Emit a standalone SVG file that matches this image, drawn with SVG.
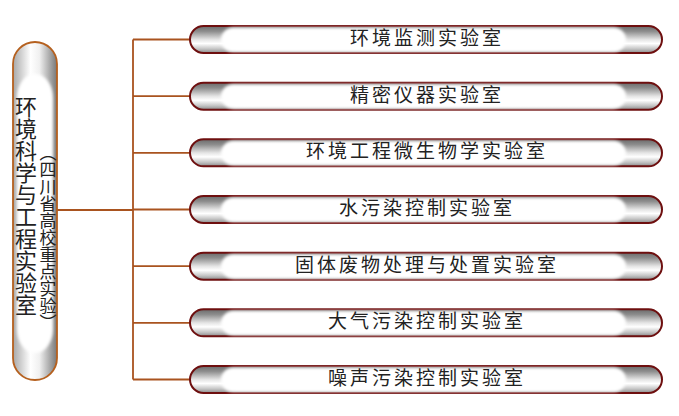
<svg xmlns="http://www.w3.org/2000/svg" width="679" height="416" viewBox="0 0 679 416">
<defs>
<linearGradient id="gBar" x1="0" y1="0" x2="0" y2="1">
<stop offset="0" stop-color="#6a6a6a"/>
<stop offset="0.2" stop-color="#8e8e8e"/>
<stop offset="0.5" stop-color="#e4e4e4"/>
<stop offset="0.65" stop-color="#ffffff"/>
<stop offset="0.85" stop-color="#c4c4c4"/>
<stop offset="1" stop-color="#8a8a8a"/>
</linearGradient>
<linearGradient id="gPill" x1="0" y1="0" x2="1" y2="0">
<stop offset="0" stop-color="#a8a8a8"/>
<stop offset="0.4" stop-color="#ffffff"/>
<stop offset="0.6" stop-color="#f0f0f0"/>
<stop offset="1" stop-color="#777777"/>
</linearGradient>
<filter id="soft" x="-10%" y="-10%" width="120%" height="120%">
<feGaussianBlur stdDeviation="1.6"/>
</filter>
</defs>
<style>
.bar{fill:url(#gBar);stroke:#6e0f0f;stroke-width:2}
.hi{fill:#ffffff;filter:url(#soft)}
.lbl{font-family:"Noto Sans CJK SC","Liberation Sans",sans-serif;font-size:19px;letter-spacing:3px;fill:#222222;text-anchor:middle}
.conn{stroke:#a9531f;stroke-width:1.8;fill:none}
.vt{font-family:"Noto Sans CJK SC","Liberation Sans",sans-serif;fill:#222222;writing-mode:vertical-rl}
</style>
<rect width="679" height="416" fill="#ffffff"/>
<g id="connectors">
<path class="conn" d="M57 210H133M133 39.5V379.5M133 39.5H190M133 96.2H190M133 152.8H190M133 209.5H190M133 266.2H190M133 322.8H190M133 379.5H190"/>
</g>
<g id="root">
<rect x="13" y="42" width="44" height="338" rx="22" ry="22" fill="url(#gPill)" stroke="#b5601e" stroke-width="1.8"/>
<rect class="hi" x="17" y="74" width="36" height="279" rx="18" ry="24"/>
<text class="vt" x="26" y="96" font-size="22" writing-mode="tb">环境科学与工程实验室</text>
<text class="vt" x="48" y="144" font-size="17" writing-mode="tb">（四川省高校重点实验）</text>
</g>
<g id="n1">
<rect class="bar" x="190" y="26" width="472" height="27" rx="13.5"/>
<rect class="hi" x="221" y="27.5" width="405" height="24.5" rx="12.5"/>
<text class="lbl" x="427" y="45">环境监测实验室</text>
</g>
<g id="n2">
<rect class="bar" x="190" y="82.7" width="472" height="27" rx="13.5"/>
<rect class="hi" x="221" y="84.2" width="405" height="24.5" rx="12.5"/>
<text class="lbl" x="427" y="101.7">精密仪器实验室</text>
</g>
<g id="n3">
<rect class="bar" x="190" y="139.3" width="472" height="27" rx="13.5"/>
<rect class="hi" x="221" y="140.8" width="405" height="24.5" rx="12.5"/>
<text class="lbl" x="427" y="158.3">环境工程微生物学实验室</text>
</g>
<g id="n4">
<rect class="bar" x="190" y="196" width="472" height="27" rx="13.5"/>
<rect class="hi" x="221" y="197.5" width="405" height="24.5" rx="12.5"/>
<text class="lbl" x="427" y="215">水污染控制实验室</text>
</g>
<g id="n5">
<rect class="bar" x="190" y="252.7" width="472" height="27" rx="13.5"/>
<rect class="hi" x="221" y="254.2" width="405" height="24.5" rx="12.5"/>
<text class="lbl" x="427" y="271.7">固体废物处理与处置实验室</text>
</g>
<g id="n6">
<rect class="bar" x="190" y="309.3" width="472" height="27" rx="13.5"/>
<rect class="hi" x="221" y="310.8" width="405" height="24.5" rx="12.5"/>
<text class="lbl" x="427" y="328.3">大气污染控制实验室</text>
</g>
<g id="n7">
<rect class="bar" x="190" y="366" width="472" height="27" rx="13.5"/>
<rect class="hi" x="221" y="367.5" width="405" height="24.5" rx="12.5"/>
<text class="lbl" x="427" y="385">噪声污染控制实验室</text>
</g>
</svg>
